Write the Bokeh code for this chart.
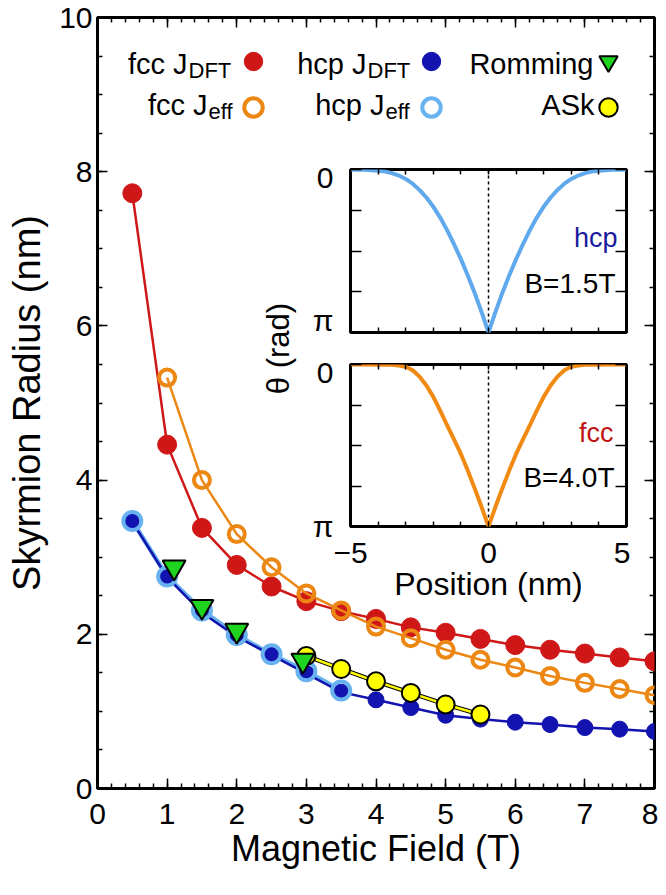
import math
from bokeh.plotting import figure
from bokeh.models import (Range1d, SingleIntervalTicker, FixedTicker, LinearAxis,
                          Label, Legend, LegendItem, Span, CustomJSTickFormatter)
from bokeh.layouts import column
from bokeh.embed import file_html
from bokeh.resources import INLINE

FONT = "Liberation Sans"

# ---------------- main panel data ----------------
B_FCC_DFT = [0.5, 1.0, 1.5, 2.0, 2.5, 3.0, 3.5, 4.0, 4.5, 5.0, 5.5, 6.0, 6.5, 7.0, 7.5, 8.0]
R_FCC_DFT = [7.72, 4.46, 3.38, 2.90, 2.62, 2.43, 2.30, 2.20, 2.09, 2.02, 1.94, 1.86, 1.80, 1.75, 1.70, 1.65]

B_FCC_EFF = [1.0, 1.5, 2.0, 2.5, 3.0, 3.5, 4.0, 4.5, 5.0, 5.5, 6.0, 6.5, 7.0, 7.5, 8.0]
R_FCC_EFF = [5.33, 4.00, 3.30, 2.87, 2.53, 2.31, 2.10, 1.95, 1.80, 1.67, 1.57, 1.46, 1.37, 1.29, 1.21]

B_HCP_DFT = [0.5, 1.0, 1.5, 2.0, 2.5, 3.0, 3.5, 4.0, 4.5, 5.0, 5.5, 6.0, 6.5, 7.0, 7.5, 8.0]
R_HCP_DFT = [3.46, 2.74, 2.28, 1.97, 1.73, 1.49, 1.25, 1.15, 1.05, 0.95, 0.90, 0.86, 0.83, 0.79, 0.77, 0.74]

B_HCP_EFF = [0.5, 1.0, 1.5, 2.0, 2.5, 3.0, 3.5]
R_HCP_EFF = [3.47, 2.75, 2.31, 1.99, 1.74, 1.52, 1.27]

B_ROMMING = [1.1, 1.5, 2.0, 2.95]
R_ROMMING = [2.87, 2.36, 2.05, 1.66]

B_ASK = [3.0, 3.5, 4.0, 4.5, 5.0, 5.5]
R_ASK = [1.72, 1.55, 1.39, 1.24, 1.09, 0.96]

# ---------------- inset data: theta in units of pi ----------------
POSITION = [-5.0, -4.75, -4.5, -4.25, -4.0, -3.75, -3.5, -3.25, -3.0, -2.75, -2.5,
            -2.25, -2.0, -1.75, -1.5, -1.25, -1.0, -0.75, -0.5, -0.25, 0.0,
            0.25, 0.5, 0.75, 1.0, 1.25, 1.5, 1.75, 2.0, 2.25, 2.5,
            2.75, 3.0, 3.25, 3.5, 3.75, 4.0, 4.25, 4.5, 4.75, 5.0]
THETA_HCP_DFT = [0.000, 0.001, 0.002, 0.005, 0.008, 0.014, 0.024, 0.040, 0.062, 0.092, 0.131,
                 0.179, 0.236, 0.303, 0.380, 0.465, 0.556, 0.655, 0.762, 0.878, 1.000,
                 0.878, 0.762, 0.655, 0.556, 0.465, 0.380, 0.303, 0.236, 0.179, 0.131,
                 0.092, 0.062, 0.040, 0.024, 0.014, 0.008, 0.005, 0.002, 0.001, 0.000]
THETA_HCP_EFF = [0.000, 0.001, 0.002, 0.004, 0.007, 0.012, 0.022, 0.037, 0.058, 0.087, 0.125,
                 0.172, 0.228, 0.295, 0.372, 0.458, 0.550, 0.650, 0.758, 0.875, 1.000,
                 0.875, 0.758, 0.650, 0.550, 0.458, 0.372, 0.295, 0.228, 0.172, 0.125,
                 0.087, 0.058, 0.037, 0.022, 0.012, 0.007, 0.004, 0.002, 0.001, 0.000]
THETA_FCC_DFT = [0.000, 0.000, 0.000, 0.000, 0.000, 0.001, 0.002, 0.005, 0.012, 0.030, 0.068,
                 0.122, 0.192, 0.277, 0.368, 0.457, 0.548, 0.650, 0.760, 0.876, 1.000,
                 0.876, 0.760, 0.650, 0.548, 0.457, 0.368, 0.277, 0.192, 0.122, 0.068,
                 0.030, 0.012, 0.005, 0.002, 0.001, 0.000, 0.000, 0.000, 0.000, 0.000]
THETA_FCC_EFF = [0.000, 0.000, 0.000, 0.000, 0.001, 0.001, 0.002, 0.006, 0.014, 0.035, 0.075,
                 0.130, 0.200, 0.285, 0.375, 0.462, 0.552, 0.655, 0.765, 0.880, 1.000,
                 0.880, 0.765, 0.655, 0.552, 0.462, 0.375, 0.285, 0.200, 0.130, 0.075,
                 0.035, 0.014, 0.006, 0.002, 0.001, 0.001, 0.000, 0.000, 0.000, 0.000]

RED = "#cf1717"
ORANGE = "#ec8714"
DBLUE = "#1313b0"
LBLUE = "#68b2f0"
GREEN = "#1fd41f"
YELLOW = "#ffff00"

BLANK = CustomJSTickFormatter(code="return '';")

W, H = 658, 887


def style_axis(ax, major_in, minor_in, size="30px", standoff=5, blank=False):
    ax.axis_line_color = None
    ax.major_tick_in = major_in
    ax.major_tick_out = 0
    ax.minor_tick_in = minor_in
    ax.minor_tick_out = 0
    ax.major_tick_line_width = 1.5
    ax.minor_tick_line_width = 1.5
    ax.major_tick_line_color = "black"
    ax.minor_tick_line_color = "black"
    ax.major_label_text_font = FONT
    ax.major_label_text_color = "black"
    ax.axis_label_text_font = FONT
    ax.axis_label_text_font_style = "normal"
    ax.axis_label_text_color = "black"
    if blank:
        ax.formatter = BLANK
        ax.major_label_text_font_size = "0px"
        ax.major_label_standoff = 0
    else:
        ax.major_label_text_font_size = size
        ax.major_label_standoff = standoff


def lab(fig, x, y, text, size, color="black", align="left", baseline="alphabetic", angle=0.0):
    fig.add_layout(Label(x=x, y=y, x_units="screen", y_units="screen", text=text,
                         text_font=FONT, text_font_size=f"{size}px", text_color=color,
                         text_align=align, text_baseline=baseline, angle=angle))


# ================= main figure =================
p = figure(width=W, height=H, x_range=Range1d(0, 8), y_range=Range1d(0, 10),
           output_backend="svg", toolbar_location=None,
           x_axis_location=None, y_axis_location=None,
           min_border_left=97, min_border_right=4, min_border_top=17, min_border_bottom=99)
p.grid.visible = False
p.outline_line_color = "black"
p.outline_line_width = 3
p.background_fill_color = "white"
p.border_fill_color = "white"

xt = SingleIntervalTicker(interval=1, num_minor_ticks=5)
yt = SingleIntervalTicker(interval=2, num_minor_ticks=4)

xb = LinearAxis(ticker=xt, axis_label="Magnetic Field (T)")
style_axis(xb, 10, 5, "30px", 15)
xb.axis_label_text_font_size = "36px"
xb.axis_label_standoff = 1
p.add_layout(xb, "below")

yl = LinearAxis(ticker=yt, axis_label="Skyrmion Radius (nm)")
style_axis(yl, 10, 5, "30px", 5)
yl.axis_label_text_font_size = "38px"
yl.axis_label_standoff = 8
p.add_layout(yl, "left")

xa = LinearAxis(ticker=xt)
style_axis(xa, 10, 5, blank=True)
p.add_layout(xa, "above")
yr = LinearAxis(ticker=yt)
style_axis(yr, 10, 5, blank=True)
p.add_layout(yr, "right")

# fcc J_DFT
p.line(B_FCC_DFT, R_FCC_DFT, line_color=RED, line_width=2.5)
r_fcc_dft = p.scatter(B_FCC_DFT, R_FCC_DFT, marker="circle", size=19,
                      fill_color=RED, line_color=RED, line_width=1)
# fcc J_eff
p.line(B_FCC_EFF, R_FCC_EFF, line_color=ORANGE, line_width=2.5)
r_fcc_eff = p.scatter(B_FCC_EFF, R_FCC_EFF, marker="circle", size=16,
                      fill_color=None, line_color=ORANGE, line_width=4)
# hcp J_eff line below the hcp J_DFT line
p.line(B_HCP_EFF, R_HCP_EFF, line_color=LBLUE, line_width=4.5)
# hcp J_DFT
p.line(B_HCP_DFT, R_HCP_DFT, line_color=DBLUE, line_width=2.5)
r_hcp_dft = p.scatter(B_HCP_DFT, R_HCP_DFT, marker="circle", size=16,
                      fill_color=DBLUE, line_color=DBLUE, line_width=1)
# hcp J_eff
r_hcp_eff = p.scatter(B_HCP_EFF, R_HCP_EFF, marker="circle", size=18,
                      fill_color=None, line_color=LBLUE, line_width=4)
# ASk
p.line(B_ASK, R_ASK, line_color="black", line_width=4.5)
p.line(B_ASK, R_ASK, line_color=YELLOW, line_width=2.5)
r_ask = p.scatter(B_ASK, R_ASK, marker="circle", size=18,
                  fill_color=YELLOW, line_color="black", line_width=2)
# Romming
r_rom = p.scatter(B_ROMMING, R_ROMMING, marker="inverted_triangle", size=23,
                  fill_color=GREEN, line_color="black", line_width=2)


def make_legend(items, loc):
    lg = Legend(items=[LegendItem(label=" ", renderers=[r]) for r in items],
                location=loc, orientation="vertical", spacing=0, padding=0, margin=0,
                glyph_width=46, glyph_height=46, label_width=0, label_standoff=0,
                label_text_font_size="1px", border_line_color=None,
                background_fill_alpha=0)
    p.add_layout(lg)


make_legend([r_fcc_dft, r_fcc_eff], (133, 658))
make_legend([r_hcp_dft, r_hcp_eff], (311, 658))
make_legend([r_rom, r_ask], (488, 658))

lab(p, 90, 725, "fcc J", 29, align="right")
lab(p, 91, 718, "DFT", 22)
lab(p, 269, 725, "hcp J", 29, align="right")
lab(p, 270, 718, "DFT", 22)
lab(p, 496, 725, "Romming", 29, align="right")
lab(p, 110, 684, "fcc J", 29, align="right")
lab(p, 111, 677, "eff", 22)
lab(p, 287, 684, "hcp J", 29, align="right")
lab(p, 288, 677, "eff", 22)
lab(p, 497, 684, "ASk", 29, align="right")

lab(p, 181, 440, "θ (rad)", 31, align="center", baseline="middle", angle=math.pi / 2)


# ================= insets =================
def make_inset(height, bottom_border, show_x):
    f = figure(width=377, height=height, x_range=Range1d(-5, 5), y_range=Range1d(1, 0),
               output_backend="svg", toolbar_location=None,
               x_axis_location=None, y_axis_location=None,
               min_border_left=97, min_border_right=4, min_border_top=9,
               min_border_bottom=bottom_border)
    f.grid.visible = False
    f.outline_line_color = "black"
    f.outline_line_width = 3
    f.background_fill_color = "white"
    f.border_fill_color = None

    ixt = FixedTicker(ticks=[-5, 0, 5], minor_ticks=[-4, -3, -2, -1, 1, 2, 3, 4])
    iyt = FixedTicker(ticks=[0, 1], minor_ticks=[0.25, 0.5, 0.75])

    xb_ = LinearAxis(ticker=ixt)
    if show_x:
        style_axis(xb_, 5, 5, "30px", 16)
        xb_.formatter = CustomJSTickFormatter(
            code="return tick < 0 ? '\\u2212' + Math.abs(tick) : String(tick);")
        xb_.axis_label = "Position (nm)"
        xb_.axis_label_text_font_size = "32px"
        xb_.axis_label_standoff = 0
    else:
        style_axis(xb_, 5, 5, blank=True)
    f.add_layout(xb_, "below")

    yl_ = LinearAxis(ticker=iyt)
    style_axis(yl_, 11, 11, "30px", 17)
    yl_.formatter = CustomJSTickFormatter(
        code="if (Math.abs(tick) < 1e-6) return '0'; if (Math.abs(tick - 1) < 1e-6) return '\\u03c0'; return '';")
    f.add_layout(yl_, "left")

    xa_ = LinearAxis(ticker=ixt)
    style_axis(xa_, 5, 5, blank=True)
    f.add_layout(xa_, "above")
    yr_ = LinearAxis(ticker=iyt)
    style_axis(yr_, 11, 11, blank=True)
    f.add_layout(yr_, "right")

    f.add_layout(Span(location=0, dimension="height", line_color="black",
                      line_width=1.5, line_dash="3 3", level="underlay"))
    return f


ins_top = make_inset(176, 4, False)
ins_top.line(POSITION, THETA_HCP_DFT, line_color="#1c1c8e", line_width=1.5)
ins_top.line(POSITION, THETA_HCP_EFF, line_color="#5fa9ec", line_width=4)
lab(ins_top, 267, 95, "hcp", 27, color="#1a1aa0", align="right")
lab(ins_top, 265, 49, "B=1.5T", 28, align="right")

ins_bot = make_inset(263, 92, True)
ins_bot.line(POSITION, THETA_FCC_DFT, line_color="#a8100f", line_width=1.5)
ins_bot.line(POSITION, THETA_FCC_EFF, line_color="#f08a12", line_width=4)
lab(ins_bot, 263, 94, "fcc", 27, color="#c01414", align="right")
lab(ins_bot, 264, 49, "B=4.0T", 28, align="right")

ins_top.margin = (160 - H, 0, 0, 253)
ins_bot.margin = (355 - (160 + 176), 0, H - (355 + 263), 253)

layout = column(p, ins_top, ins_bot)

open("out.html", "w", encoding="utf-8").write(file_html(layout, INLINE))
